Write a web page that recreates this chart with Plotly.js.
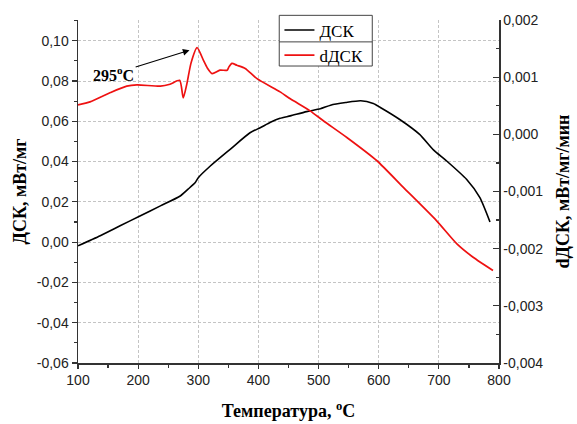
<!DOCTYPE html>
<html>
<head>
<meta charset="utf-8">
<script src="https://cdn.plot.ly/plotly-3.0.1.min.js"></script>
<style>html,body{margin:0;padding:0;background:#fff;}#chart{width:577px;height:424px;}</style>
</head>
<body>
<div id="chart"></div>
<script>
// DSC (left axis), mW/mg
const dscT = [100, 137, 170, 203, 237, 270, 283, 295, 300, 320, 353, 386, 403, 420, 436, 453, 480, 503, 520, 545, 570, 591, 602, 635, 668, 691, 713, 746, 768, 785];
const dscV = [-0.0018, 0.0032, 0.0081, 0.0130, 0.0180, 0.0229, 0.0263, 0.0296, 0.0320, 0.0378, 0.0461, 0.0543, 0.0568, 0.0595, 0.0615, 0.0627, 0.0648, 0.0662, 0.0680, 0.0693, 0.0702, 0.0688, 0.0670, 0.0609, 0.0535, 0.0458, 0.0403, 0.0312, 0.0222, 0.0100];

// dDSC (right axis), mW/mg/min
const ddscT = [100, 120, 154, 181, 198, 237, 253, 269, 275, 281, 288, 298, 309, 315, 323, 336, 348, 351, 356, 364, 378, 397, 436, 453, 486, 508, 547, 597, 641, 696, 730, 757, 790];
const ddscV = [0.000516, 0.000568, 0.000731, 0.000843, 0.000865, 0.000843, 0.000877, 0.000944, 0.000638, 0.000883, 0.00125, 0.001516, 0.001284, 0.001162, 0.001063, 0.001122, 0.001122, 0.00118, 0.001241, 0.001209, 0.001153, 0.000978, 0.000743, 0.000621, 0.000411, 0.000237, -0.000055, -0.000462, -0.000928, -0.001509, -0.001916, -0.00215, -0.002382];

const seriesNames = ['ДСК', 'dДСК'];

const xTickVals = [100, 200, 300, 400, 500, 600, 700, 800];
const xTickText = ['100', '200', '300', '400', '500', '600', '700', '800'];
const xMinor = [150, 250, 350, 450, 550, 650, 750];

const yTickVals = [-0.06, -0.04, -0.02, 0.00, 0.02, 0.04, 0.06, 0.08, 0.10];
const yTickText = ['-0,06', '-0,04', '-0,02', '0,00', '0,02', '0,04', '0,06', '0,08', '0,10'];
const yMinor = [-0.05, -0.03, -0.01, 0.01, 0.03, 0.05, 0.07, 0.09, 0.11];

const y2TickVals = [-0.004, -0.003, -0.002, -0.001, 0.000, 0.001, 0.002];
const y2TickText = ['-0,004', '-0,003', '-0,002', '-0,001', '0,000', '0,001', '0,002'];
const y2Minor = [-0.0035, -0.0025, -0.0015, -0.0005, 0.0005, 0.0015];

const tickFont = {family: 'Liberation Sans, Arial, sans-serif', size: 14, color: '#222'};
const titleFont = {family: 'Liberation Serif, Times New Roman, serif', size: 18, color: '#000', weight: 'bold'};
const gridStyle = {showgrid: true, gridcolor: '#c4c4c4', gridwidth: 1, griddash: '3px,2px'};

const traces = [
  {x: dscT, y: dscV, name: seriesNames[0], type: 'scatter', mode: 'lines', yaxis: 'y',
   line: {color: '#000000', width: 1.6, shape: 'spline', smoothing: 0.6}},
  {x: ddscT, y: ddscV, name: seriesNames[1], type: 'scatter', mode: 'lines', yaxis: 'y2',
   line: {color: '#ee1111', width: 1.7, shape: 'spline', smoothing: 0.6}}
];

const layout = {
  width: 577, height: 424,
  margin: {l: 78, r: 78, t: 18, b: 61, pad: 0},
  paper_bgcolor: '#fff', plot_bgcolor: '#fff',
  showlegend: true,
  legend: {x: 0.4785, y: 1.022, xanchor: 'left', yanchor: 'top',
    bgcolor: 'rgba(0,0,0,0)', borderwidth: 0,
    font: {family: 'Liberation Serif, Times New Roman, serif', size: 17, color: '#000'},
    tracegroupgap: 0},
  xaxis: Object.assign({
    range: [100, 800], tickmode: 'array', tickvals: xTickVals, ticktext: xTickText,
    ticks: 'outside', ticklen: 4, tickwidth: 1.2, tickcolor: '#333',
    minor: {tickmode: 'array', tickvals: xMinor, ticks: 'outside', ticklen: 3, tickcolor: '#333', showgrid: false},
    showline: true, linecolor: '#333', linewidth: 1.5, mirror: false, zeroline: false,
    tickfont: tickFont,
    title: {text: 'Температура, <sup>o</sup>C', font: titleFont, standoff: 17}
  }, gridStyle),
  yaxis: Object.assign({
    range: [-0.06, 0.1103], tickmode: 'array', tickvals: yTickVals, ticktext: yTickText,
    ticks: 'outside', ticklen: 5, tickwidth: 1.2, tickcolor: '#333',
    minor: {tickmode: 'array', tickvals: yMinor, ticks: 'outside', ticklen: 3, tickcolor: '#333', showgrid: false},
    showline: true, linecolor: '#333', linewidth: 1.5, zeroline: false,
    tickfont: tickFont,
    title: {text: 'ДСК, мВт/мг', font: titleFont, standoff: 5}
  }, gridStyle),
  yaxis2: {
    overlaying: 'y', side: 'right', range: [-0.004, 0.002],
    tickmode: 'array', tickvals: y2TickVals, ticktext: y2TickText,
    ticks: 'inside', ticklen: 6, tickwidth: 1.2, tickcolor: '#333',
    minor: {tickmode: 'array', tickvals: y2Minor, ticks: 'inside', ticklen: 3, tickcolor: '#333', showgrid: false},
    showline: true, linecolor: '#333', linewidth: 1.5, zeroline: false, showgrid: false,
    tickfont: tickFont,
    title: {text: 'dДСК, мВт/мг/мин', font: titleFont, standoff: 14}
  },
  annotations: [{
    xref: 'x', yref: 'y2', axref: 'x', ayref: 'y2',
    x: 285.4, y: 0.00147, ax: 159.3, ay: 0.001057,
    text: '<b>295<sup>o</sup>C</b>', showarrow: true,
    arrowhead: 2, arrowsize: 1.2, arrowwidth: 1.1, arrowcolor: '#000',
    font: {family: 'Liberation Serif, Times New Roman, serif', size: 16, color: '#000'}
  }],
  shapes: [
    {type: 'rect', xref: 'paper', yref: 'paper', layer: 'above', x0: 0.478, x1: 0.699, y0: 0.8658, y1: 1.0136,
     fillcolor: '#fff', line: {color: '#444', width: 1}},
    {type: 'line', xref: 'paper', yref: 'paper', layer: 'above', x0: 0.478, x1: 0.699, y0: 0.9362, y1: 0.9362,
     line: {color: '#444', width: 1}}
  ]
};

Plotly.newPlot('chart', traces, layout, {displayModeBar: false, staticPlot: true});
</script>
</body>
</html>
